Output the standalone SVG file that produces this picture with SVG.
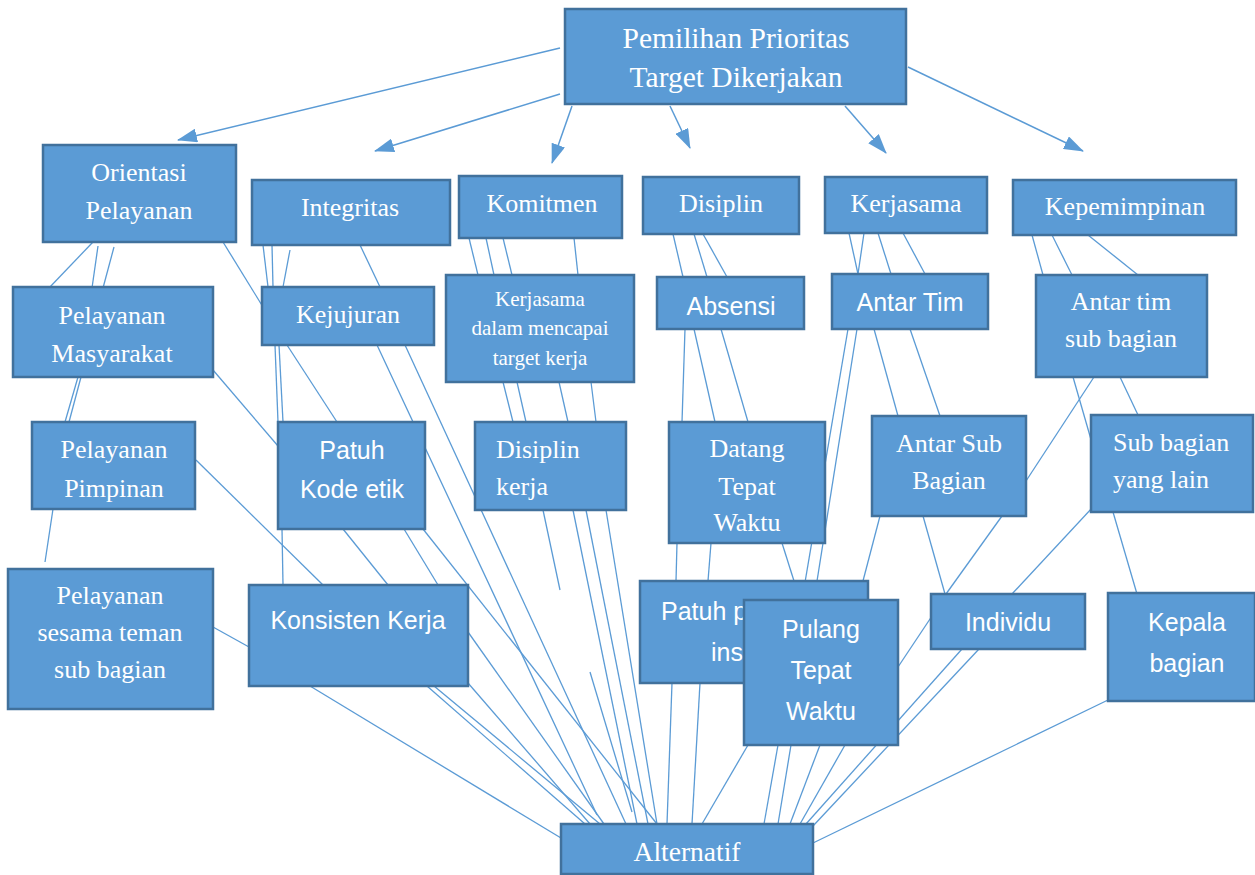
<svg xmlns="http://www.w3.org/2000/svg" width="1255" height="875" viewBox="0 0 1255 875">
<defs>
<marker id="ah" viewBox="0 0 20 14" refX="19" refY="7" markerWidth="20" markerHeight="14" markerUnits="userSpaceOnUse" orient="auto">
<path d="M0,0 L20,7 L0,14 Z" fill="#5b9bd5"/>
</marker>
<style>
.box{fill:#5b9bd5;stroke:#41719c;stroke-width:2.5}
.ln{stroke:#5b9bd5;stroke-width:1.3;fill:none}
.ar{stroke:#5b9bd5;stroke-width:1.5;fill:none;marker-end:url(#ah)}
.sf{font-family:"Liberation Serif","Times New Roman",serif;fill:#fff;font-size:26px;text-anchor:middle}
.ss{font-family:"Liberation Sans",Arial,sans-serif;fill:#fff;font-size:25px;text-anchor:middle}
.st{text-anchor:start}
.big{font-size:29.5px}
.sm{font-size:21px}
.alt{font-size:27.5px}
</style>
</defs>
<rect width="1255" height="875" fill="#fff"/>
<g id="connectors">
<line class="ar" x1="560" y1="48" x2="178" y2="140"/>
<line class="ar" x1="560" y1="94" x2="375" y2="151"/>
<line class="ar" x1="572" y1="106" x2="552" y2="163"/>
<line class="ar" x1="670" y1="106" x2="690" y2="148"/>
<line class="ar" x1="845" y1="106" x2="886" y2="153"/>
<line class="ar" x1="908" y1="67" x2="1083" y2="151"/>
<line class="ln" x1="93" y1="242" x2="49" y2="288"/>
<line class="ln" x1="98" y1="246" x2="92" y2="288"/>
<line class="ln" x1="114" y1="247" x2="103" y2="288"/>
<line class="ln" x1="223" y1="242" x2="263" y2="307"/>
<line class="ln" x1="78" y1="377" x2="65" y2="422"/>
<line class="ln" x1="81" y1="377" x2="69" y2="422"/>
<line class="ln" x1="53" y1="509" x2="45" y2="562"/>
<line class="ln" x1="213" y1="370" x2="278" y2="446"/>
<line class="ln" x1="196" y1="460" x2="323" y2="585"/>
<line class="ln" x1="213" y1="627" x2="249" y2="647"/>
<line class="ln" x1="263" y1="245" x2="268" y2="287"/>
<line class="ln" x1="272" y1="245" x2="273" y2="287"/>
<line class="ln" x1="290" y1="250" x2="283" y2="287"/>
<line class="ln" x1="360" y1="245" x2="380" y2="287"/>
<line class="ln" x1="275" y1="345" x2="278" y2="422"/>
<line class="ln" x1="279" y1="345" x2="283" y2="422"/>
<line class="ln" x1="287" y1="345" x2="337" y2="422"/>
<line class="ln" x1="377" y1="345" x2="597" y2="815"/>
<line class="ln" x1="405" y1="345" x2="626" y2="824"/>
<line class="ln" x1="282" y1="529" x2="283" y2="585"/>
<line class="ln" x1="343" y1="529" x2="388" y2="585"/>
<line class="ln" x1="404" y1="529" x2="438" y2="585"/>
<line class="ln" x1="423" y1="529" x2="657" y2="824"/>
<line class="ln" x1="310" y1="686" x2="561" y2="838"/>
<line class="ln" x1="427" y1="686" x2="585" y2="824"/>
<line class="ln" x1="434" y1="686" x2="600" y2="824"/>
<line class="ln" x1="468" y1="632" x2="604" y2="824"/>
<line class="ln" x1="468" y1="683" x2="590" y2="824"/>
<line class="ln" x1="469" y1="238" x2="478" y2="275"/>
<line class="ln" x1="486" y1="238" x2="494" y2="275"/>
<line class="ln" x1="503" y1="238" x2="512" y2="275"/>
<line class="ln" x1="574" y1="238" x2="578" y2="275"/>
<line class="ln" x1="503" y1="382" x2="513" y2="422"/>
<line class="ln" x1="517" y1="382" x2="526" y2="422"/>
<line class="ln" x1="559" y1="382" x2="568" y2="422"/>
<line class="ln" x1="591" y1="382" x2="596" y2="422"/>
<line class="ln" x1="543" y1="510" x2="560" y2="590"/>
<line class="ln" x1="573" y1="510" x2="637" y2="824"/>
<line class="ln" x1="586" y1="510" x2="648" y2="824"/>
<line class="ln" x1="606" y1="510" x2="657" y2="824"/>
<line class="ln" x1="590" y1="672" x2="632" y2="812"/>
<line class="ln" x1="673" y1="234" x2="683" y2="277"/>
<line class="ln" x1="694" y1="234" x2="707" y2="277"/>
<line class="ln" x1="703" y1="234" x2="727" y2="277"/>
<line class="ln" x1="685" y1="329" x2="682" y2="422"/>
<line class="ln" x1="694" y1="329" x2="715" y2="422"/>
<line class="ln" x1="721" y1="329" x2="748" y2="422"/>
<line class="ln" x1="677" y1="543" x2="676" y2="581"/>
<line class="ln" x1="711" y1="543" x2="708" y2="581"/>
<line class="ln" x1="782" y1="543" x2="800" y2="600"/>
<line class="ln" x1="672" y1="683" x2="667" y2="824"/>
<line class="ln" x1="700" y1="683" x2="692" y2="824"/>
<line class="ln" x1="849" y1="233" x2="858" y2="274"/>
<line class="ln" x1="864" y1="233" x2="858" y2="274"/>
<line class="ln" x1="878" y1="233" x2="891" y2="274"/>
<line class="ln" x1="903" y1="233" x2="925" y2="274"/>
<line class="ln" x1="848" y1="329" x2="802" y2="600"/>
<line class="ln" x1="857" y1="329" x2="814" y2="600"/>
<line class="ln" x1="874" y1="329" x2="898" y2="416"/>
<line class="ln" x1="910" y1="329" x2="940" y2="416"/>
<line class="ln" x1="880" y1="516" x2="858" y2="600"/>
<line class="ln" x1="923" y1="516" x2="945" y2="594"/>
<line class="ln" x1="1002" y1="516" x2="946" y2="594"/>
<line class="ln" x1="1032" y1="235" x2="1043" y2="275"/>
<line class="ln" x1="1052" y1="235" x2="1072" y2="275"/>
<line class="ln" x1="1088" y1="235" x2="1138" y2="275"/>
<line class="ln" x1="1094" y1="377" x2="1026" y2="481"/>
<line class="ln" x1="1073" y1="377" x2="1092" y2="443"/>
<line class="ln" x1="1120" y1="377" x2="1138" y2="415"/>
<line class="ln" x1="1092" y1="508" x2="1012" y2="594"/>
<line class="ln" x1="1113" y1="512" x2="1137" y2="594"/>
<line class="ln" x1="898" y1="667" x2="932" y2="616"/>
<line class="ln" x1="962" y1="649" x2="806" y2="824"/>
<line class="ln" x1="979" y1="649" x2="813" y2="826"/>
<line class="ln" x1="1108" y1="700" x2="813" y2="843"/>
<line class="ln" x1="748" y1="745" x2="702" y2="824"/>
<line class="ln" x1="778" y1="745" x2="764" y2="824"/>
<line class="ln" x1="791" y1="745" x2="778" y2="824"/>
<line class="ln" x1="820" y1="745" x2="790" y2="824"/>
<line class="ln" x1="845" y1="745" x2="800" y2="824"/>
</g>
<g id="n-top"><rect class="box" x="565" y="9" width="341" height="95"/><text class="sf big" x="736" y="48">Pemilihan Prioritas</text><text class="sf big" x="736" y="87">Target Dikerjakan</text></g>
<g id="n-orientasi"><rect class="box" x="43" y="145" width="193" height="97"/><text class="sf" x="139" y="181">Orientasi</text><text class="sf" x="139" y="219">Pelayanan</text></g>
<g id="n-integritas"><rect class="box" x="252" y="180" width="198" height="65"/><text class="sf" x="350" y="216">Integritas</text></g>
<g id="n-komitmen"><rect class="box" x="459" y="176" width="163" height="62"/><text class="sf" x="542" y="212">Komitmen</text></g>
<g id="n-disiplin"><rect class="box" x="643" y="177" width="156" height="57"/><text class="sf" x="721" y="212">Disiplin</text></g>
<g id="n-kerjasama"><rect class="box" x="825" y="177" width="162" height="56"/><text class="sf" x="906" y="212">Kerjasama</text></g>
<g id="n-kepemimpinan"><rect class="box" x="1013" y="180" width="223" height="55"/><text class="sf" x="1125" y="215">Kepemimpinan</text></g>
<g id="n-masyarakat"><rect class="box" x="13" y="287" width="200" height="90"/><text class="sf" x="112" y="324">Pelayanan</text><text class="sf" x="112" y="362">Masyarakat</text></g>
<g id="n-kejujuran"><rect class="box" x="262" y="287" width="172" height="58"/><text class="sf" x="348" y="323">Kejujuran</text></g>
<g id="n-kerjasama-target"><rect class="box" x="446" y="275" width="188" height="107"/><text class="sf sm" x="540" y="306">Kerjasama</text><text class="sf sm" x="540" y="335">dalam mencapai</text><text class="sf sm" x="540" y="365">target kerja</text></g>
<g id="n-absensi"><rect class="box" x="657" y="277" width="147" height="52"/><text class="ss" x="731" y="315">Absensi</text></g>
<g id="n-antartim"><rect class="box" x="832" y="274" width="156" height="55"/><text class="ss" x="910" y="311">Antar Tim</text></g>
<g id="n-antartimsub"><rect class="box" x="1036" y="275" width="171" height="102"/><text class="sf" x="1121" y="310">Antar tim</text><text class="sf" x="1121" y="347">sub bagian</text></g>
<g id="n-pimpinan"><rect class="box" x="32" y="422" width="163" height="87"/><text class="sf" x="114" y="458">Pelayanan</text><text class="sf" x="114" y="497">Pimpinan</text></g>
<g id="n-kodeetik"><rect class="box" x="278" y="422" width="147" height="107"/><text class="ss" x="352" y="459">Patuh</text><text class="ss" x="352" y="498">Kode etik</text></g>
<g id="n-disiplinkerja"><rect class="box" x="475" y="422" width="151" height="88"/><text class="sf st" x="496" y="458">Disiplin</text><text class="sf st" x="496" y="495">kerja</text></g>
<g id="n-datang"><rect class="box" x="669" y="422" width="156" height="121"/><text class="sf" x="747" y="457">Datang</text><text class="sf" x="747" y="495">Tepat</text><text class="sf" x="747" y="531">Waktu</text></g>
<g id="n-antarsub"><rect class="box" x="872" y="416" width="154" height="100"/><text class="sf" x="949" y="452">Antar Sub</text><text class="sf" x="949" y="489">Bagian</text></g>
<g id="n-sublain"><rect class="box" x="1091" y="415" width="162" height="97"/><text class="sf st" x="1113" y="451">Sub bagian</text><text class="sf st" x="1113" y="488">yang lain</text></g>
<g id="n-sesama"><rect class="box" x="8" y="569" width="205" height="140"/><text class="sf" x="110" y="604">Pelayanan</text><text class="sf" x="110" y="641">sesama teman</text><text class="sf" x="110" y="678">sub bagian</text></g>
<g id="n-konsisten"><rect class="box" x="249" y="585" width="219" height="101"/><text class="ss" x="358" y="629">Konsisten Kerja</text></g>
<g id="n-patuhinstansi"><rect class="box" x="640" y="581" width="228" height="102"/><text class="ss st" x="661" y="620">Patuh p</text><text class="ss st" x="711" y="661">ins</text></g>
<g id="n-pulang"><rect class="box" x="744" y="600" width="154" height="145"/><text class="ss" x="821" y="638">Pulang</text><text class="ss" x="821" y="679">Tepat</text><text class="ss" x="821" y="720">Waktu</text></g>
<g id="n-individu"><rect class="box" x="931" y="594" width="154" height="55"/><text class="ss" x="1008" y="631">Individu</text></g>
<g id="n-kepala"><rect class="box" x="1108" y="593" width="147" height="108"/><text class="ss" x="1187" y="631">Kepala</text><text class="ss" x="1187" y="672">bagian</text></g>
<g id="n-alternatif"><rect class="box" x="561" y="824" width="252" height="50"/><text class="sf alt" x="687" y="861">Alternatif</text></g>
</svg>
